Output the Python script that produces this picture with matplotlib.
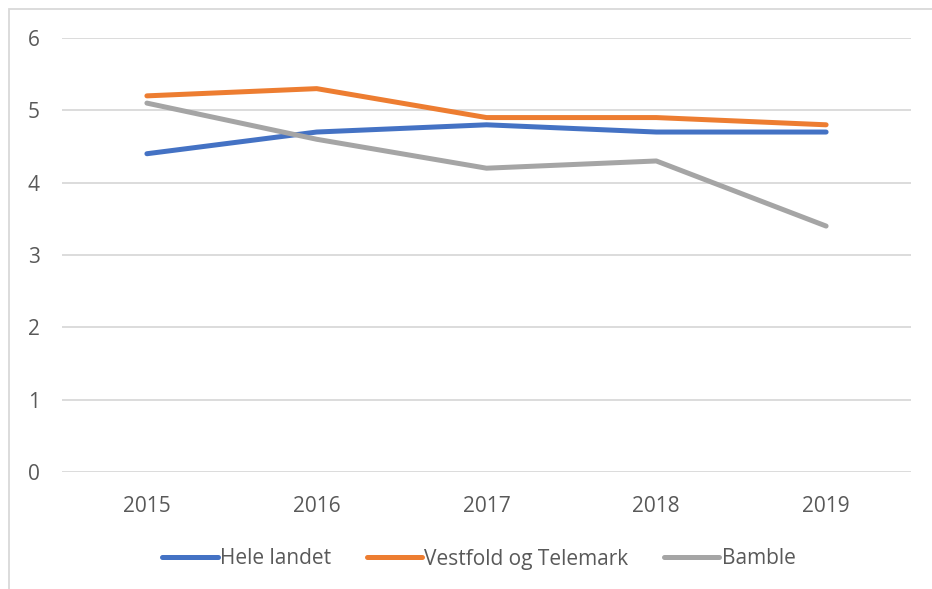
import matplotlib
matplotlib.use("Agg")
from matplotlib import pyplot as plt
from matplotlib.patches import Rectangle

# data
years = ['2015', '2016', '2017', '2018', '2019']
hele_landet = [4.4, 4.7, 4.8, 4.7, 4.7]
vestfold_telemark = [5.2, 5.3, 4.9, 4.9, 4.8]
bamble = [5.1, 4.6, 4.2, 4.3, 3.4]

plt.rcParams['font.family'] = ['Open Sans', 'DejaVu Sans']
txt_col = '#595959'
grid_col = '#D9D9D9'

fig = plt.figure(figsize=(9.32, 5.89), dpi=100)
ax = fig.add_axes([62/932, 1-472/589, (911-62)/932, (472-38)/589])

x = range(len(years))
ax.plot(x, hele_landet, color='#4472C4', lw=3.6, solid_capstyle='round', label='Hele landet')
ax.plot(x, vestfold_telemark, color='#ED7D31', lw=3.6, solid_capstyle='round', label='Vestfold og Telemark')
ax.plot(x, bamble, color='#A5A5A5', lw=3.6, solid_capstyle='round', label='Bamble')

ax.set_xlim(-0.5, 4.5)
ax.set_ylim(0, 6)
ax.set_yticks(range(0, 7))
ax.set_xticks(list(x))
ax.set_xticklabels(years)
ax.yaxis.grid(True, color=grid_col, lw=1.3)
ax.set_axisbelow(True)
for s in ax.spines.values():
    s.set_visible(False)
ax.tick_params(axis='both', length=0, labelsize=15, colors=txt_col)
ax.tick_params(axis='y', pad=16)
ax.tick_params(axis='x', pad=17)

# outer chart border (only left/top visible in the reference)
fig.patches.append(Rectangle((9/932, -0.5), 2.0, 1.5 - 9/589, transform=fig.transFigure,
                             fill=False, edgecolor=grid_col, lw=1.3))

leg = fig.legend(loc='center', bbox_to_anchor=(479/932, 1-559/589), ncol=3, frameon=False,
                 fontsize=15, handlelength=2.65, handletextpad=0.12, columnspacing=1.7)
for t in leg.get_texts():
    t.set_color(txt_col)

fig.savefig('out.png', dpi=100)
